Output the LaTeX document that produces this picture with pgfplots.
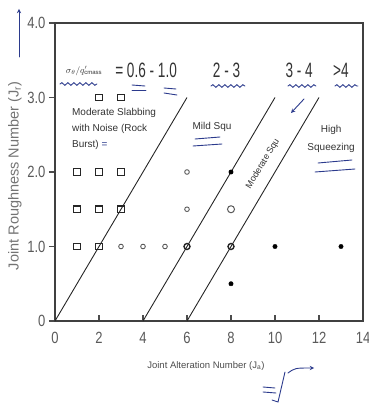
\documentclass[border=0pt]{standalone}
\usepackage{pgfplots}
\pgfplotsset{compat=1.18}
\usetikzlibrary{decorations.pathmorphing}
\usepackage{fontspec}
\setmainfont{Liberation Sans}
\definecolor{txt}{HTML}{5A5A5A}
\definecolor{ink}{HTML}{333333}
\definecolor{pen}{HTML}{2B3A8C}
\newcommand{\st}[1]{\scalebox{1}[1.25]{#1}}
\begin{document}
\begin{tikzpicture}
\useasboundingbox (-55pt,-86pt) rectangle (314pt,321pt);
\begin{axis}[
  at={(0pt,0pt)}, anchor=origin,
  width=308pt, height=298pt, scale only axis,
  xmin=0, xmax=14, ymin=0, ymax=4,
  xtick={0,2,...,14}, ytick={0,1,2,3,4},
  xticklabels={\st{0},\st{2},\st{4},\st{6},\st{8},\st{10},\st{12},\st{14}},
  yticklabels={\st{0},\st{1.0},\st{2.0},\st{3.0},\st{4.0}},
  xtick pos=bottom, ytick pos=left,
  xtick align=inside, ytick align=outside,
  major tick length=6pt,
  axis line style={draw=black!75, line width=1.4pt},
  every outer x axis line/.style={draw=black!75, line width=1.4pt},
  every outer y axis line/.style={draw=black!75, line width=1.4pt},
  tick style={black!70, line width=1.1pt},
  tick label style={font=\fontsize{13}{13}\selectfont, text=txt},
  xticklabel style={yshift=-8pt},
  xlabel={Joint Alteration Number (J\textsubscript{a})},
  ylabel={Joint Roughness Number (J\textsubscript{r})},
  xlabel style={at={(axis description cs:0.49,-0.15)}, anchor=center, font=\fontsize{9.5}{10}\selectfont, text=black!70},
  ylabel style={at={(axis description cs:-0.13,0.487)}, anchor=center, font=\fontsize{14.5}{15}\selectfont, text=black!55},
  clip=false,
]
% boundary lines
\addplot[black!85, line width=0.9pt] coordinates {(0,0) (6,3)};
\addplot[black!85, line width=0.9pt] coordinates {(4,0) (10,3)};
\addplot[black!85, line width=0.9pt] coordinates {(6,0) (12,3)};
% squares
\addplot[only marks, mark=square, mark size=3.2pt, black!85, mark options={line width=1.2pt}] coordinates {
 (2,3) (3,3) (1,2) (2,2) (3,2) (1,1.5) (2,1.5) (3,1.5) (1,1) (2,1)};
% open circles
\addplot[only marks, mark=o, mark size=2.3pt, black!65, mark options={line width=0.9pt}] coordinates {
 (3,1) (4,1) (5,1) (6,1.5) (6,2)};
\addplot[only marks, mark=o, mark size=3pt, black!85, mark options={line width=1.4pt}] coordinates {
 (6,1) (8,1)};
\addplot[only marks, mark=o, mark size=3.5pt, black!65, mark options={line width=1pt}] coordinates {
 (8,1.5)};
% filled dots
\addplot[only marks, mark=*, mark size=2.2pt, black] coordinates {
 (8,2) (10,1) (13,1) (8,0.5)};
% texts
\node[text=ink, font=\fontsize{9}{9}\selectfont] at (axis cs:1.32,3.36) {$\sigma_\theta/q'_{\mathrm{cmass}}$};
\node[text=ink, font=\fontsize{16}{16}\selectfont] at (axis cs:4.14,3.37) {\scalebox{0.85}[1.3]{= 0.6 - 1.0}};
\node[text=ink, font=\fontsize{16}{16}\selectfont] at (axis cs:7.8,3.36) {\scalebox{0.85}[1.3]{2 - 3}};
\node[text=ink, font=\fontsize{16}{16}\selectfont] at (axis cs:11.1,3.36) {\scalebox{0.85}[1.3]{3 - 4}};
\node[text=ink, font=\fontsize{16}{16}\selectfont] at (axis cs:13.0,3.36) {\scalebox{0.85}[1.3]{>4}};
\node[text=ink, font=\fontsize{10}{16}\selectfont, anchor=north west, align=left, inner sep=0pt] at (axis cs:0.77,2.86)
 {Moderate Slabbing\\with Noise (Rock\\Burst) \textcolor{pen}{=}};
\node[text=ink, font=\fontsize{10}{10}\selectfont] at (axis cs:7.14,2.61) {Mild Squ};
\node[text=ink, font=\fontsize{9}{9}\selectfont, rotate=59, inner sep=1pt] at (axis cs:9.45,2.11) {Moderate Squ};
\node[text=ink, font=\fontsize{10}{18}\selectfont, align=center] at (axis cs:12.55,2.45) {High\\Squeezing};
\end{axis}
% handwritten blue marks
\begin{scope}[pen, line width=0.9pt, line cap=round]
\draw[decorate, decoration={snake, amplitude=1.3pt, segment length=6pt}] (5pt,237pt) -- (42pt,237pt);
\draw[decorate, decoration={snake, amplitude=1.3pt, segment length=6pt}] (156pt,235pt) -- (190pt,235pt);
\draw[decorate, decoration={snake, amplitude=1.3pt, segment length=6pt}] (233pt,235pt) -- (261pt,235pt);
\draw[decorate, decoration={snake, amplitude=1.3pt, segment length=6pt}] (280pt,235pt) -- (303pt,235pt);
\draw (77pt,236pt) -- (90pt,235pt); \draw (77pt,231pt) -- (91pt,231pt);
\draw (109pt,233pt) -- (121pt,232pt); \draw (109pt,228pt) -- (122pt,226pt);
\draw[->, >=stealth] (249pt,222pt) -- (236pt,208pt);
\draw (140pt,182pt) -- (165pt,184pt); \draw (138pt,175pt) -- (167pt,177pt);
\draw (263pt,158pt) -- (297pt,161pt); \draw (260pt,149pt) -- (300pt,152pt);
\draw[->, >=stealth] (-36pt,264pt) -- (-36pt,312pt);
\draw[->, >=stealth] (233pt,-52pt) .. controls (240pt,-47pt) .. (259pt,-47pt);
\draw (208pt,-66pt) -- (220pt,-67pt); \draw (208pt,-71pt) -- (221pt,-72pt);
\draw (230pt,-51pt) -- (223pt,-81pt) -- (217pt,-79pt);
\end{scope}
\end{tikzpicture}
\end{document}
